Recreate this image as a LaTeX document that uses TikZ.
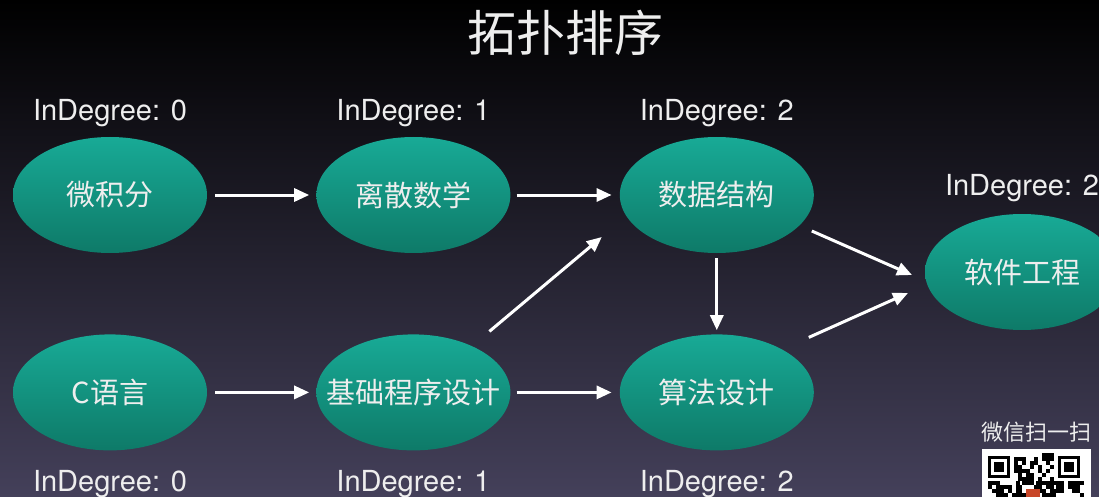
\documentclass[tikz,border=0pt]{standalone}
\usepackage{fontspec}
\setmainfont{TeX Gyre Heros}
\newfontfamily\cjk{Noto Sans CJK SC}
\usetikzlibrary{shapes.geometric, arrows.meta, positioning, calc}
\definecolor{bgtop}{RGB}{0,0,0}
\definecolor{bgmid}{RGB}{20,18,32}
\definecolor{bgbot}{RGB}{68,64,90}
\definecolor{tealtop}{RGB}{24,170,150}
\definecolor{tealbot}{RGB}{14,122,104}
\definecolor{soft}{RGB}{238,238,238}
\definecolor{logo}{RGB}{200,70,40}
\tikzstyle{course} = [ellipse, minimum width=194pt, minimum height=116pt, inner sep=0pt,
    top color=tealtop, bottom color=tealbot, text=soft, font=\cjk\fontsize{29}{34}\selectfont]
\tikzstyle{degree} = [inner sep=0pt, text=soft, font=\fontsize{29}{34}\selectfont]
\tikzstyle{arrow} = [line width=3pt, draw=white, -{Triangle[length=15pt,width=13pt,fill=white]}]

\begin{document}
\begin{tikzpicture}[node distance=81pt and 109pt]
  \clip (0,0) rectangle (1099pt,-497pt);
  \fill[top color=bgtop, middle color=bgmid, bottom color=bgbot] (0,0) rectangle (1099pt,-497pt);

  \node (title) [text=soft, font=\cjk\fontsize{49}{56}\selectfont] at (565pt,-33pt) {拓扑排序};

  \node (wjf)  [course] at (110pt,-195pt) {微积分};
  \node (lssx) [course, right=of wjf] {离散数学};
  \node (sjjg) [course, right=of lssx] {数据结构};
  \node (cyy)  [course, below=of wjf] {C语言};
  \node (jccx) [course, below=of lssx, inner xsep=-22pt] {基础程序设计};
  \node (sfsj) [course, below=of sjjg] {算法设计};
  \node (rjgc) [course] at (1022pt,-272pt) {软件工程};

  \node (wjfin)  [degree, above=16pt of wjf, anchor=base] {InDegree: 0};
  \node (lssxin) [degree, above=16pt of lssx, anchor=base] {InDegree: 1};
  \node (sjjgin) [degree, above=16pt of sjjg, anchor=base] {InDegree: 2};
  \node (rjgcin) [degree, above=18pt of rjgc, anchor=base] {InDegree: 2};
  \node (cyyin)  [degree, below=20pt of cyy] {InDegree: 0};
  \node (jccxin) [degree, below=20pt of jccx] {InDegree: 1};
  \node (sfsjin) [degree, below=20pt of sfsj] {InDegree: 2};

  \draw[arrow, shorten <=8pt, shorten >=7pt] (wjf) -- (lssx);
  \draw[arrow, shorten <=6pt, shorten >=8pt] (lssx) -- (sjjg);
  \draw[arrow, shorten <=8pt, shorten >=7pt] (cyy) -- (jccx);
  \draw[arrow, shorten <=6pt, shorten >=8pt] (jccx) -- (sfsj);
  \draw[arrow, shorten <=5pt, shorten >=4pt] (sjjg) -- (sfsj);
  \draw[arrow] ($(jccx)+(76pt,61pt)$) -- ($(sjjg)+(-115pt,-42pt)$);
  \draw[arrow] ($(sjjg)+(95pt,-36pt)$) -- ($(rjgc)+(-110pt,-3pt)$);
  \draw[arrow] ($(sfsj)+(92pt,55pt)$) -- ($(rjgc)+(-114pt,-21pt)$);

  \node (scan) [text=soft, font=\cjk\fontsize{22}{26}\selectfont] at (1036pt,-432pt) {微信扫一扫};
  \fill[white] (982pt,-449pt) rectangle (1091pt,-497pt);
  \pgfmathsetseed{7}
  \foreach \i in {0,...,9} {
    \foreach \j in {0,...,10} {
      \pgfmathsetmacro{\r}{rnd}
      \ifdim\r pt<0.5pt
        \fill[black] ({1014pt+\i*4pt},{-453pt-\j*4pt}) rectangle ++(4pt,-4pt);
      \fi
    }
  }
  \foreach \i in {0,...,23} {
    \foreach \j in {0,...,3} {
      \pgfmathsetmacro{\r}{rnd}
      \ifdim\r pt<0.5pt
        \fill[black] ({988pt+\i*4pt},{-481pt-\j*4pt}) rectangle ++(4pt,-4pt);
      \fi
    }
  }
  \foreach \x in {988pt,1058pt} {
    \fill[black] (\x,-456pt) rectangle ++(22pt,-22pt);
    \fill[white] ($(\x,-456pt)+(3pt,-3pt)$) rectangle ++(16pt,-16pt);
    \fill[black] ($(\x,-456pt)+(6pt,-6pt)$) rectangle ++(10pt,-10pt);
  }
  \fill[logo] (1026pt,-489pt) rectangle (1040pt,-497pt);
\end{tikzpicture}
\end{document}
